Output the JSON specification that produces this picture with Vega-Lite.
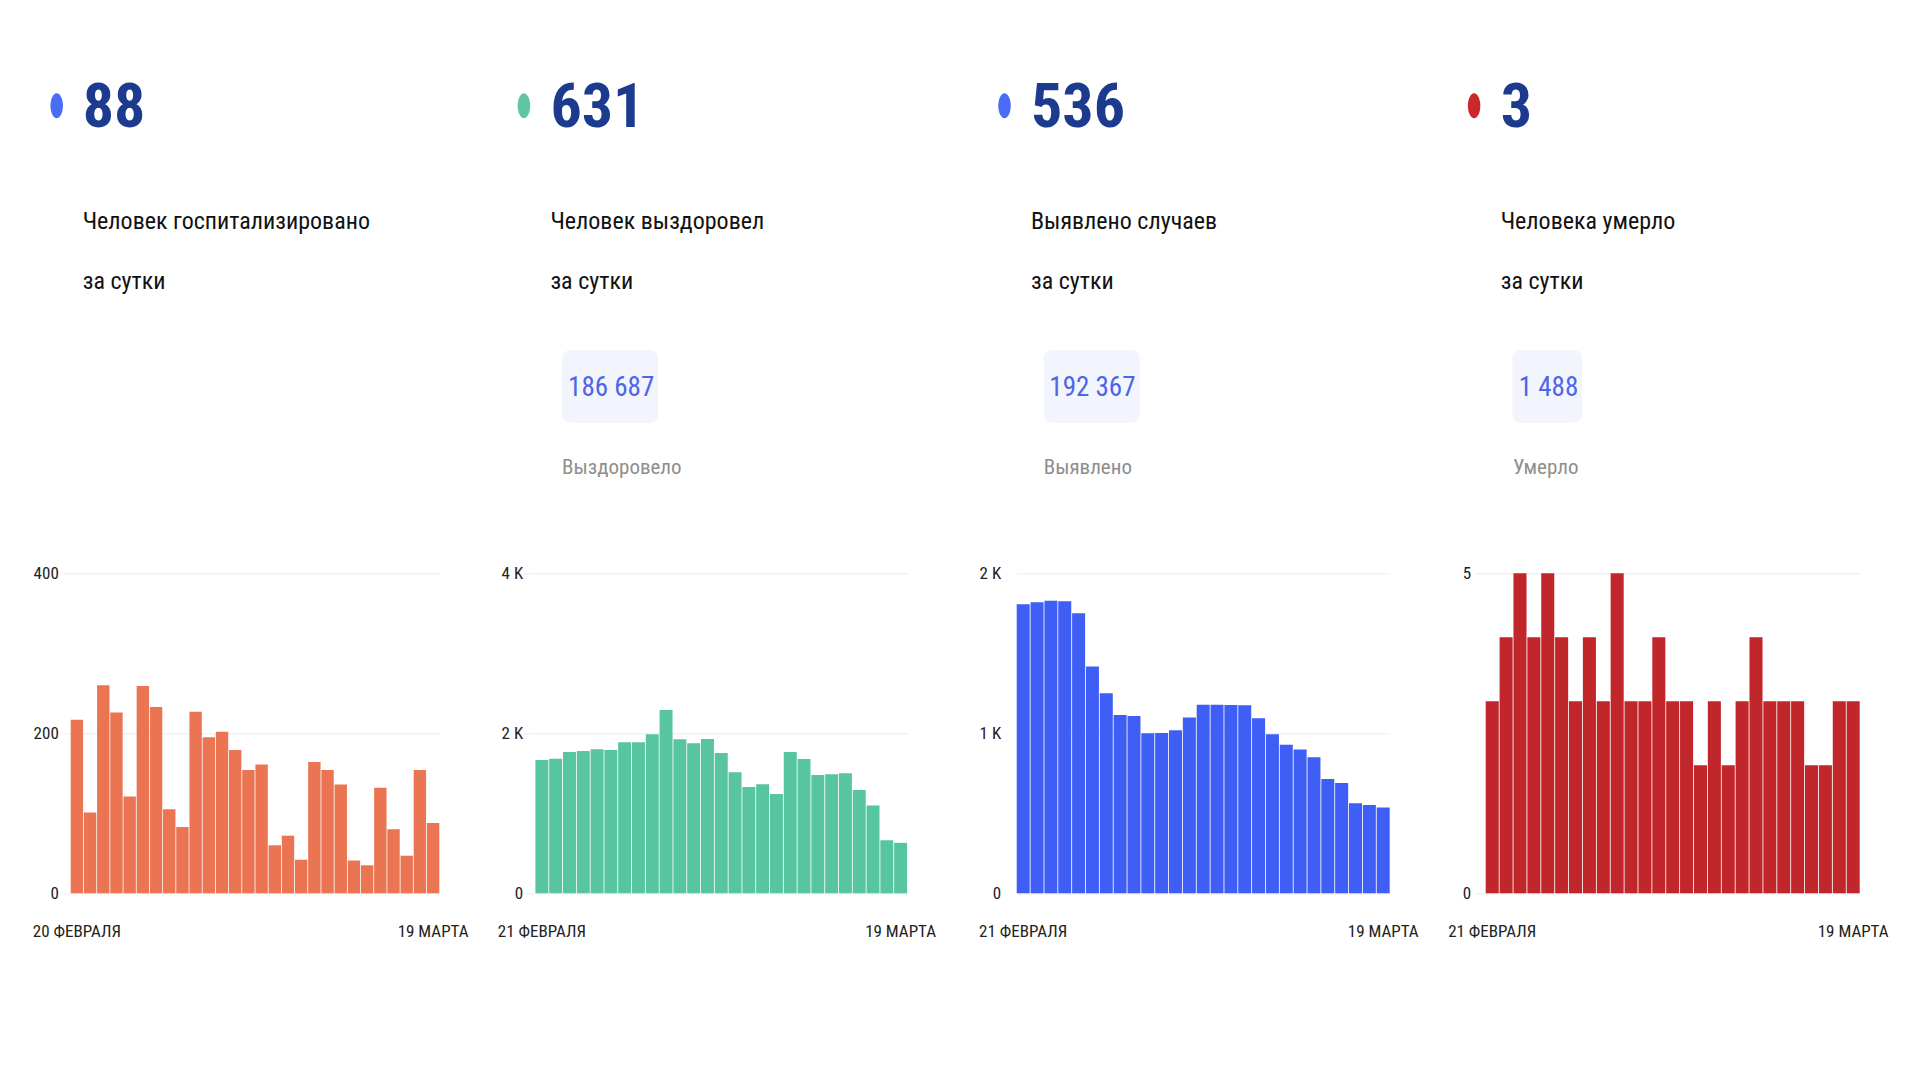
{
  "$schema": "https://vega.github.io/schema/vega-lite/v6.json",
  "autosize": {"type": "none"},
  "padding": {"left": 70.7, "top": 573.3, "right": 1849.3, "bottom": 506.7},
  "background": "#ffffff",
  "datasets": {
    "hosp": [
      {"date": "2021-02-20", "value": 217}, {"date": "2021-02-21", "value": 101}, {"date": "2021-02-22", "value": 260},
      {"date": "2021-02-23", "value": 226}, {"date": "2021-02-24", "value": 121}, {"date": "2021-02-25", "value": 259},
      {"date": "2021-02-26", "value": 233}, {"date": "2021-02-27", "value": 105}, {"date": "2021-02-28", "value": 83},
      {"date": "2021-03-01", "value": 227}, {"date": "2021-03-02", "value": 195}, {"date": "2021-03-03", "value": 202},
      {"date": "2021-03-04", "value": 179}, {"date": "2021-03-05", "value": 154}, {"date": "2021-03-06", "value": 161},
      {"date": "2021-03-07", "value": 60}, {"date": "2021-03-08", "value": 72}, {"date": "2021-03-09", "value": 42},
      {"date": "2021-03-10", "value": 164}, {"date": "2021-03-11", "value": 154}, {"date": "2021-03-12", "value": 136},
      {"date": "2021-03-13", "value": 41}, {"date": "2021-03-14", "value": 35}, {"date": "2021-03-15", "value": 132},
      {"date": "2021-03-16", "value": 80}, {"date": "2021-03-17", "value": 47}, {"date": "2021-03-18", "value": 154},
      {"date": "2021-03-19", "value": 88}
    ],
    "recovered": [
      {"date": "2021-02-21", "value": 1667}, {"date": "2021-02-22", "value": 1683}, {"date": "2021-02-23", "value": 1767},
      {"date": "2021-02-24", "value": 1779}, {"date": "2021-02-25", "value": 1800}, {"date": "2021-02-26", "value": 1792},
      {"date": "2021-02-27", "value": 1888}, {"date": "2021-02-28", "value": 1888}, {"date": "2021-03-01", "value": 1988},
      {"date": "2021-03-02", "value": 2292}, {"date": "2021-03-03", "value": 1925}, {"date": "2021-03-04", "value": 1875},
      {"date": "2021-03-05", "value": 1929}, {"date": "2021-03-06", "value": 1754}, {"date": "2021-03-07", "value": 1512},
      {"date": "2021-03-08", "value": 1329}, {"date": "2021-03-09", "value": 1362}, {"date": "2021-03-10", "value": 1242},
      {"date": "2021-03-11", "value": 1767}, {"date": "2021-03-12", "value": 1679}, {"date": "2021-03-13", "value": 1479},
      {"date": "2021-03-14", "value": 1488}, {"date": "2021-03-15", "value": 1500}, {"date": "2021-03-16", "value": 1292},
      {"date": "2021-03-17", "value": 1096}, {"date": "2021-03-18", "value": 663}, {"date": "2021-03-19", "value": 631}
    ],
    "cases": [
      {"date": "2021-02-21", "value": 1806}, {"date": "2021-02-22", "value": 1819}, {"date": "2021-02-23", "value": 1829},
      {"date": "2021-02-24", "value": 1825}, {"date": "2021-02-25", "value": 1750}, {"date": "2021-02-26", "value": 1417},
      {"date": "2021-02-27", "value": 1250}, {"date": "2021-02-28", "value": 1115}, {"date": "2021-03-01", "value": 1108},
      {"date": "2021-03-02", "value": 1000}, {"date": "2021-03-03", "value": 1002}, {"date": "2021-03-04", "value": 1019},
      {"date": "2021-03-05", "value": 1098}, {"date": "2021-03-06", "value": 1179}, {"date": "2021-03-07", "value": 1179},
      {"date": "2021-03-08", "value": 1177}, {"date": "2021-03-09", "value": 1175}, {"date": "2021-03-10", "value": 1094},
      {"date": "2021-03-11", "value": 994}, {"date": "2021-03-12", "value": 929}, {"date": "2021-03-13", "value": 898},
      {"date": "2021-03-14", "value": 850}, {"date": "2021-03-15", "value": 715}, {"date": "2021-03-16", "value": 690},
      {"date": "2021-03-17", "value": 563}, {"date": "2021-03-18", "value": 552}, {"date": "2021-03-19", "value": 536}
    ],
    "deaths": [
      {"date": "2021-02-21", "value": 3}, {"date": "2021-02-22", "value": 4}, {"date": "2021-02-23", "value": 5},
      {"date": "2021-02-24", "value": 4}, {"date": "2021-02-25", "value": 5}, {"date": "2021-02-26", "value": 4},
      {"date": "2021-02-27", "value": 3}, {"date": "2021-02-28", "value": 4}, {"date": "2021-03-01", "value": 3},
      {"date": "2021-03-02", "value": 5}, {"date": "2021-03-03", "value": 3}, {"date": "2021-03-04", "value": 3},
      {"date": "2021-03-05", "value": 4}, {"date": "2021-03-06", "value": 3}, {"date": "2021-03-07", "value": 3},
      {"date": "2021-03-08", "value": 2}, {"date": "2021-03-09", "value": 3}, {"date": "2021-03-10", "value": 2},
      {"date": "2021-03-11", "value": 3}, {"date": "2021-03-12", "value": 4}, {"date": "2021-03-13", "value": 3},
      {"date": "2021-03-14", "value": 3}, {"date": "2021-03-15", "value": 3}, {"date": "2021-03-16", "value": 2},
      {"date": "2021-03-17", "value": 2}, {"date": "2021-03-18", "value": 3}, {"date": "2021-03-19", "value": 3}
    ],
    "headers": [
      {"panel": 1, "number": "88", "caption": "Человек госпитализировано\nза сутки", "total": "", "totalLabel": ""},
      {"panel": 2, "number": "631", "caption": "Человек выздоровел\nза сутки", "total": "186 687", "totalLabel": "Выздоровело"},
      {"panel": 3, "number": "536", "caption": "Выявлено случаев\nза сутки", "total": "192 367", "totalLabel": "Выявлено"},
      {"panel": 4, "number": "3", "caption": "Человека умерло\nза сутки", "total": "1 488", "totalLabel": "Умерло"}
    ]
  },
  "config": {
    "view": {"stroke": null},
    "axisY": {"domain": false, "ticks": true, "tickSize": 10, "tickColor": "#ebebeb", "tickWidth": 1, "grid": true, "gridColor": "#ebebeb", "gridWidth": 1, "labelPadding": 3, "labelFont": "Roboto Condensed, Roboto, sans-serif", "labelFontSize": 17, "labelColor": "#222222", "title": null},
    "axisX": {"domain": false, "ticks": false, "tickSize": 0, "grid": false, "labelAngle": 0, "labelPadding": 30.5, "labelFont": "Roboto Condensed, Roboto, sans-serif", "labelFontSize": 17, "labelColor": "#222222", "title": null, "labelOverlap": false}
  },
  "hconcat": [
    {
      "width": 368.6, "height": 320,
      "layer": [
        {"data": {"name": "hosp"}, "mark": {"type": "bar", "color": "#eb7452"},
         "encoding": {
           "x": {"field": "date", "type": "ordinal", "scale": {"paddingInner": 0.06, "paddingOuter": 0},
                 "axis": {"values": ["2021-02-20", "2021-03-19"], "labelExpr": "datum.value == '2021-02-20' ? '20 ФЕВРАЛЯ' : '19 МАРТА'"}},
           "y": {"field": "value", "type": "quantitative", "scale": {"domain": [0, 400], "nice": false}, "axis": {"values": [0, 200, 400], "tickSize": 7.4, "labelPadding": 5}}
         }},
        {"data": {"name": "headers"}, "transform": [{"filter": "datum.panel == 1"}],
         "mark": {"type": "point", "shape": "M0,-1A0.5,1,0,1,1,0,1A0.5,1,0,1,1,0,-1Z", "size": 625, "filled": true, "color": "#4a6cf7", "opacity": 1, "strokeWidth": 0},
         "encoding": {"x": {"value": -14}, "y": {"value": -467.5}}},
        {"data": {"name": "headers"}, "transform": [{"filter": "datum.panel == 1"}],
         "mark": {"type": "text", "align": "left", "baseline": "alphabetic", "font": "Roboto Condensed, Roboto, sans-serif", "fontSize": 62, "fontWeight": "bold", "color": "#1c3b8e"},
         "encoding": {"x": {"value": 12}, "y": {"value": -446.3}, "text": {"field": "number"}}},
        {"data": {"name": "headers"}, "transform": [{"filter": "datum.panel == 1"}],
         "mark": {"type": "text", "align": "left", "baseline": "alphabetic", "lineBreak": "\n", "lineHeight": 60, "font": "Roboto Condensed, Roboto, sans-serif", "fontSize": 24, "color": "#111111"},
         "encoding": {"x": {"value": 12}, "y": {"value": -344.8}, "text": {"field": "caption"}}}
      ]
    },
    {
      "width": 372.4, "height": 320,
      "layer": [
        {"data": {"name": "recovered"}, "mark": {"type": "bar", "color": "#57c59f"},
         "encoding": {
           "x": {"field": "date", "type": "ordinal", "scale": {"paddingInner": 0.06, "paddingOuter": 0, "range": [0.7, 372.4]},
                 "axis": {"values": ["2021-02-21", "2021-03-19"], "labelExpr": "datum.value == '2021-02-21' ? '21 ФЕВРАЛЯ' : '19 МАРТА'"}},
           "y": {"field": "value", "type": "quantitative", "scale": {"domain": [0, 4000], "nice": false}, "axis": {"values": [0, 2000, 4000], "tickSize": 11, "labelPadding": 1, "labelExpr": "datum.value == 0 ? '0' : (datum.value / 1000) + ' K'"}}
         }},
        {"data": {"name": "headers"}, "transform": [{"filter": "datum.panel == 2"}],
         "mark": {"type": "point", "shape": "M0,-1A0.5,1,0,1,1,0,1A0.5,1,0,1,1,0,-1Z", "size": 625, "filled": true, "color": "#5ec7a1", "opacity": 1, "strokeWidth": 0},
         "encoding": {"x": {"value": -10.8}, "y": {"value": -467.5}}},
        {"data": {"name": "headers"}, "transform": [{"filter": "datum.panel == 2"}],
         "mark": {"type": "text", "align": "left", "baseline": "alphabetic", "font": "Roboto Condensed, Roboto, sans-serif", "fontSize": 62, "fontWeight": "bold", "color": "#1c3b8e"},
         "encoding": {"x": {"value": 15.7}, "y": {"value": -446.3}, "text": {"field": "number"}}},
        {"data": {"name": "headers"}, "transform": [{"filter": "datum.panel == 2"}],
         "mark": {"type": "text", "align": "left", "baseline": "alphabetic", "lineBreak": "\n", "lineHeight": 60, "font": "Roboto Condensed, Roboto, sans-serif", "fontSize": 24, "color": "#111111"},
         "encoding": {"x": {"value": 15.7}, "y": {"value": -344.8}, "text": {"field": "caption"}}},
        {"data": {"name": "headers"}, "transform": [{"filter": "datum.panel == 2"}],
         "mark": {"type": "rect", "color": "#f2f5fd", "cornerRadius": 8},
         "encoding": {"x": {"value": 27.4}, "x2": {"value": 123.4}, "y": {"value": -223.3}, "y2": {"value": -150.6}}},
        {"data": {"name": "headers"}, "transform": [{"filter": "datum.panel == 2"}],
         "mark": {"type": "text", "align": "left", "baseline": "alphabetic", "font": "Roboto Condensed, Roboto, sans-serif", "fontSize": 27, "color": "#4d66e6"},
         "encoding": {"x": {"value": 33.4}, "y": {"value": -177}, "text": {"field": "total"}}},
        {"data": {"name": "headers"}, "transform": [{"filter": "datum.panel == 2"}],
         "mark": {"type": "text", "align": "left", "baseline": "alphabetic", "font": "Roboto Condensed, Roboto, sans-serif", "fontSize": 21, "color": "#8e8e8e"},
         "encoding": {"x": {"value": 27.4}, "y": {"value": -99}, "text": {"field": "totalLabel"}}}
      ]
    },
    {
      "width": 387.6, "height": 320,
      "layer": [
        {"data": {"name": "cases"}, "mark": {"type": "bar", "color": "#3f5ef5"},
         "encoding": {
           "x": {"field": "date", "type": "ordinal", "scale": {"paddingInner": 0.06, "paddingOuter": 0, "range": [14, 387]},
                 "axis": {"values": ["2021-02-21", "2021-03-19"], "labelExpr": "datum.value == '2021-02-21' ? '21 ФЕВРАЛЯ' : '19 МАРТА'"}},
           "y": {"field": "value", "type": "quantitative", "scale": {"domain": [0, 2000], "nice": false}, "axis": {"values": [0, 1000, 2000], "ticks": false, "labelPadding": 2, "labelExpr": "datum.value == 0 ? '0' : (datum.value / 1000) + ' K'"}}
         }},
        {"data": {"name": "headers"}, "transform": [{"filter": "datum.panel == 3"}],
         "mark": {"type": "point", "shape": "M0,-1A0.5,1,0,1,1,0,1A0.5,1,0,1,1,0,-1Z", "size": 625, "filled": true, "color": "#4a6cf7", "opacity": 1, "strokeWidth": 0},
         "encoding": {"x": {"value": 1.8}, "y": {"value": -467.5}}},
        {"data": {"name": "headers"}, "transform": [{"filter": "datum.panel == 3"}],
         "mark": {"type": "text", "align": "left", "baseline": "alphabetic", "font": "Roboto Condensed, Roboto, sans-serif", "fontSize": 62, "fontWeight": "bold", "color": "#1c3b8e"},
         "encoding": {"x": {"value": 28.3}, "y": {"value": -446.3}, "text": {"field": "number"}}},
        {"data": {"name": "headers"}, "transform": [{"filter": "datum.panel == 3"}],
         "mark": {"type": "text", "align": "left", "baseline": "alphabetic", "lineBreak": "\n", "lineHeight": 60, "font": "Roboto Condensed, Roboto, sans-serif", "fontSize": 24, "color": "#111111"},
         "encoding": {"x": {"value": 28.3}, "y": {"value": -344.8}, "text": {"field": "caption"}}},
        {"data": {"name": "headers"}, "transform": [{"filter": "datum.panel == 3"}],
         "mark": {"type": "rect", "color": "#f2f5fd", "cornerRadius": 8},
         "encoding": {"x": {"value": 41}, "x2": {"value": 137}, "y": {"value": -223.3}, "y2": {"value": -150.6}}},
        {"data": {"name": "headers"}, "transform": [{"filter": "datum.panel == 3"}],
         "mark": {"type": "text", "align": "left", "baseline": "alphabetic", "font": "Roboto Condensed, Roboto, sans-serif", "fontSize": 27, "color": "#4d66e6"},
         "encoding": {"x": {"value": 46.6}, "y": {"value": -177}, "text": {"field": "total"}}},
        {"data": {"name": "headers"}, "transform": [{"filter": "datum.panel == 3"}],
         "mark": {"type": "text", "align": "left", "baseline": "alphabetic", "font": "Roboto Condensed, Roboto, sans-serif", "fontSize": 21, "color": "#8e8e8e"},
         "encoding": {"x": {"value": 41}, "y": {"value": -99}, "text": {"field": "totalLabel"}}}
      ]
    },
    {
      "width": 374, "height": 320,
      "layer": [
        {"data": {"name": "deaths"}, "mark": {"type": "bar", "color": "#c0262a"},
         "encoding": {
           "x": {"field": "date", "type": "ordinal", "scale": {"paddingInner": 0.06, "paddingOuter": 0},
                 "axis": {"values": ["2021-02-21", "2021-03-19"], "labelExpr": "datum.value == '2021-02-21' ? '21 ФЕВРАЛЯ' : '19 МАРТА'"}},
           "y": {"field": "value", "type": "quantitative", "scale": {"domain": [0, 5], "nice": false}, "axis": {"values": [0, 5], "tickSize": 11, "labelPadding": 4}}
         }},
        {"data": {"name": "headers"}, "transform": [{"filter": "datum.panel == 4"}],
         "mark": {"type": "point", "shape": "M0,-1A0.5,1,0,1,1,0,1A0.5,1,0,1,1,0,-1Z", "size": 625, "filled": true, "color": "#c9292c", "opacity": 1, "strokeWidth": 0},
         "encoding": {"x": {"value": -11.6}, "y": {"value": -467.5}}},
        {"data": {"name": "headers"}, "transform": [{"filter": "datum.panel == 4"}],
         "mark": {"type": "text", "align": "left", "baseline": "alphabetic", "font": "Roboto Condensed, Roboto, sans-serif", "fontSize": 62, "fontWeight": "bold", "color": "#1c3b8e"},
         "encoding": {"x": {"value": 15}, "y": {"value": -446.3}, "text": {"field": "number"}}},
        {"data": {"name": "headers"}, "transform": [{"filter": "datum.panel == 4"}],
         "mark": {"type": "text", "align": "left", "baseline": "alphabetic", "lineBreak": "\n", "lineHeight": 60, "font": "Roboto Condensed, Roboto, sans-serif", "fontSize": 24, "color": "#111111"},
         "encoding": {"x": {"value": 15}, "y": {"value": -344.8}, "text": {"field": "caption"}}},
        {"data": {"name": "headers"}, "transform": [{"filter": "datum.panel == 4"}],
         "mark": {"type": "rect", "color": "#f2f5fd", "cornerRadius": 8},
         "encoding": {"x": {"value": 26.7}, "x2": {"value": 96.4}, "y": {"value": -223.3}, "y2": {"value": -150.6}}},
        {"data": {"name": "headers"}, "transform": [{"filter": "datum.panel == 4"}],
         "mark": {"type": "text", "align": "left", "baseline": "alphabetic", "font": "Roboto Condensed, Roboto, sans-serif", "fontSize": 27, "color": "#4d66e6"},
         "encoding": {"x": {"value": 33}, "y": {"value": -177}, "text": {"field": "total"}}},
        {"data": {"name": "headers"}, "transform": [{"filter": "datum.panel == 4"}],
         "mark": {"type": "text", "align": "left", "baseline": "alphabetic", "font": "Roboto Condensed, Roboto, sans-serif", "fontSize": 21, "color": "#8e8e8e"},
         "encoding": {"x": {"value": 27.4}, "y": {"value": -99}, "text": {"field": "totalLabel"}}}
      ]
    }
  ],
  "spacing": 95,
  "bounds": "flush"
}
